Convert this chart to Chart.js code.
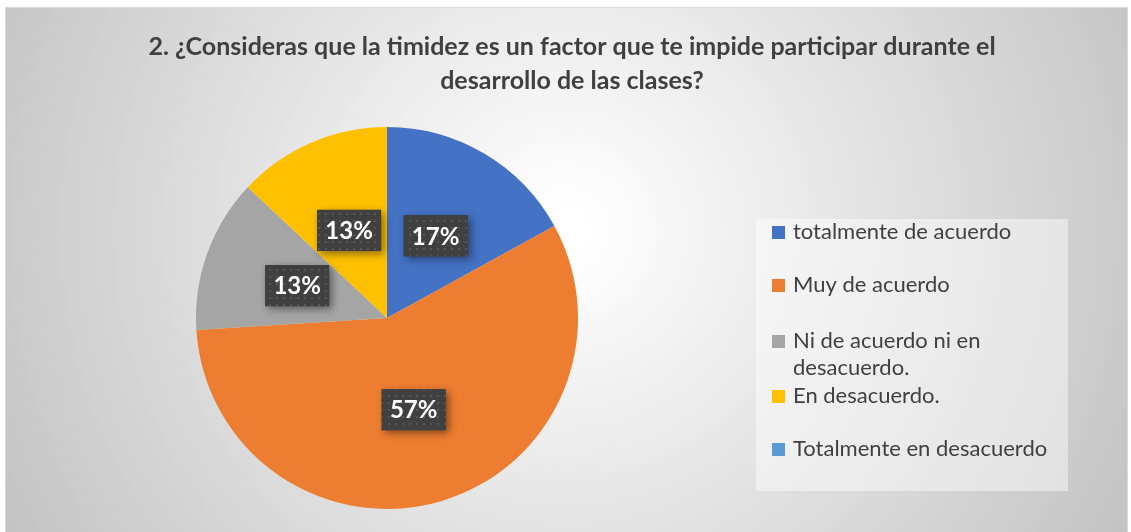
<!DOCTYPE html>
<html>
<head>
<meta charset="utf-8">
<script src="https://cdn.jsdelivr.net/npm/chart.js@4.4.1/dist/chart.umd.min.js"></script>
<style>
  html, body { margin: 0; padding: 0; background: #fff; }
  #wrap { width: 1131px; height: 532px; }
</style>
</head>
<body>
<div id="wrap"><canvas id="pie-chart" width="1131" height="532"></canvas></div>
<script>
// data
const titleLines = ['2. ¿Consideras que la timidez es un factor que te impide participar durante el', 'desarrollo de las clases?'];
const categories = ['totalmente de acuerdo', 'Muy de acuerdo', 'Ni de acuerdo ni en desacuerdo.', 'En desacuerdo.', 'Totalmente en desacuerdo'];
const percents = [17, 57, 13, 13, 0];
const sliceColors = ['#4472C4', '#ED7D31', '#A5A5A5', '#FFC000', '#5B9BD5'];

const FONT = 'Lato, "Open Sans", sans-serif';
const TEXT = '#404040';

// dotted dark pattern for the data labels
function makeDots() {
    const c = document.createElement('canvas');
    c.width = 7; c.height = 7;
    const g = c.getContext('2d');
    g.fillStyle = '#404040';
    g.fillRect(0, 0, 7, 7);
    g.fillStyle = '#565656';
    g.fillRect(3, 3, 2, 2);
    return c;
}
const dots = makeDots();

const backdrop = {
    id: 'backdrop',
    beforeDraw(chart) {
        const ctx = chart.ctx;
        ctx.save();
        const grd = ctx.createRadialGradient(565, 230, 20, 565, 230, 700);
        grd.addColorStop(0, '#ffffff');
        grd.addColorStop(1, '#bdbdbd');
        ctx.fillStyle = grd;
        ctx.fillRect(5, 7, 1123, 525);
        ctx.strokeStyle = '#d9d9d9';
        ctx.lineWidth = 1;
        ctx.strokeRect(5.5, 7.5, 1122, 530);

        ctx.fillStyle = TEXT;
        ctx.font = 'bold 25px ' + FONT;
        ctx.textAlign = 'center';
        ctx.textBaseline = 'middle';
        titleLines.forEach((t, i) => ctx.fillText(t, 572, 47 + i * 34));
        ctx.restore();
    }
};

const overlays = {
    id: 'overlays',
    afterDraw(chart) {
        const ctx = chart.ctx;
        const meta = chart.getDatasetMeta(0);
        ctx.save();
        // data labels
        const pat = ctx.createPattern(dots, 'repeat');
        meta.data.forEach((arc, i) => {
            const v = percents[i];
            if (!v) return;
            const p = arc.tooltipPosition();
            const w = 64, h = 41;
            const x = p.x - w / 2, y = p.y - h / 2;
            ctx.save();
            ctx.shadowColor = 'rgba(0,0,0,0.45)';
            ctx.shadowBlur = 8;
            ctx.shadowOffsetX = 3;
            ctx.shadowOffsetY = 3;
            ctx.fillStyle = '#404040';
            ctx.fillRect(x, y, w, h);
            ctx.restore();
            ctx.fillStyle = pat;
            ctx.fillRect(x, y, w, h);
            ctx.fillStyle = '#ffffff';
            ctx.font = 'bold 24px ' + FONT;
            ctx.textAlign = 'center';
            ctx.textBaseline = 'middle';
            ctx.fillText(v + '%', p.x, p.y + 1);
        });

        // legend
        ctx.fillStyle = 'rgba(255,255,255,0.45)';
        ctx.fillRect(756, 219, 312, 272);
        ctx.font = '22px ' + FONT;
        ctx.textAlign = 'left';
        ctx.textBaseline = 'middle';
        const rows = [232, 285, 341, 396, 449];
        categories.forEach((label, i) => {
            const y = rows[i];
            ctx.fillStyle = sliceColors[i];
            ctx.fillRect(772, y - 6, 13, 13);
            ctx.fillStyle = TEXT;
            // simple word wrap
            const words = label.split(' ');
            let line = '', ly = y;
            words.forEach(wd => {
                const test = line ? line + ' ' + wd : wd;
                if (ctx.measureText(test).width > 266 && line) {
                    ctx.fillText(line, 793, ly);
                    line = wd;
                    ly += 27;
                } else {
                    line = test;
                }
            });
            ctx.fillText(line, 793, ly);
        });
        ctx.restore();
    }
};

new Chart(document.getElementById('pie-chart'), {
    type: 'pie',
    data: {
        labels: categories,
        datasets: [{
            data: percents,
            backgroundColor: sliceColors,
            borderWidth: 0
        }]
    },
    options: {
        responsive: false,
        animation: false,
        layout: {
            padding: { left: 196, right: 553, top: 127, bottom: 23 }
        },
        plugins: {
            legend: { display: false },
            title: { display: false },
            tooltip: { enabled: false }
        }
    },
    plugins: [backdrop, overlays]
});
</script>
</body>
</html>
